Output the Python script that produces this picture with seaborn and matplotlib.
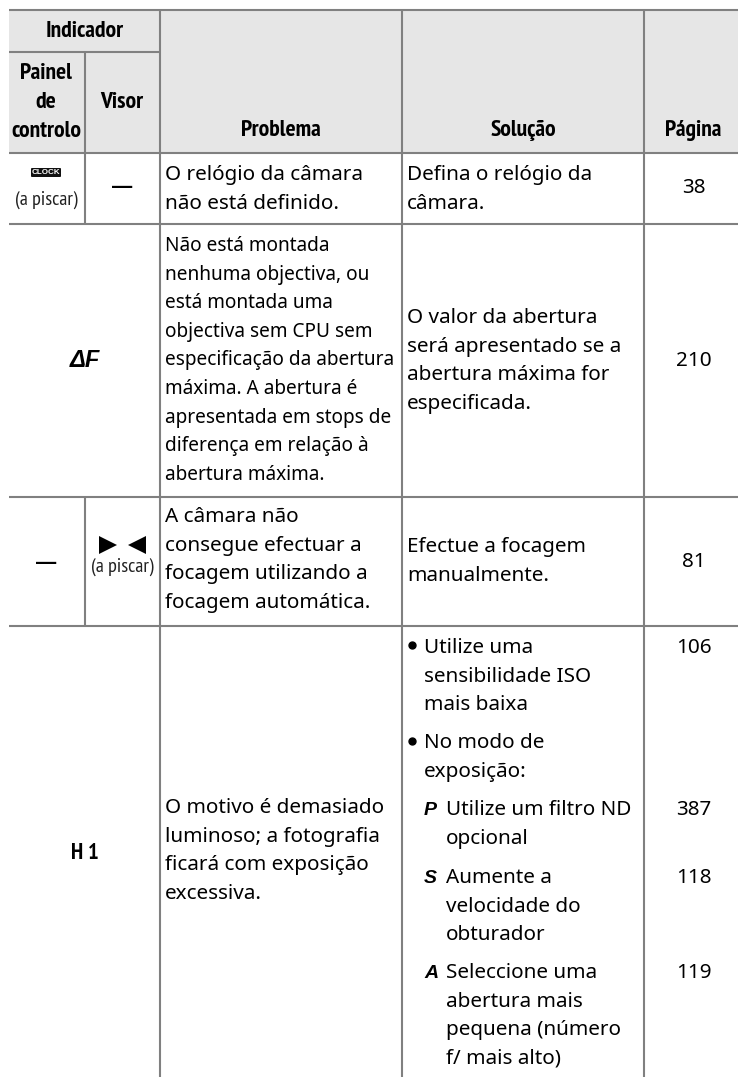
import matplotlib
matplotlib.use("Agg")
import matplotlib.pyplot as plt
import seaborn as sns
from matplotlib.patches import FancyBboxPatch, Polygon, Rectangle

# table text
header_top = "Indicador"
header_sub = ["Painel", "de", "controlo"]
header_visor = "Visor"
header_problem = "Problema"
header_solution = "Solução"
header_page = "Página"

blink = "(a piscar)"
dash = "—"
badge_text = "CLOCK"
aperture_symbol = "ΔF"
bright_symbol = "H 1"
mode_symbols = ["P", "S", "A"]

problem_1 = ["O relógio da câmara", "não está definido."]
problem_2 = ["Não está montada", "nenhuma objectiva, ou", "está montada uma",
             "objectiva sem CPU sem", "especificação da abertura",
             "máxima. A abertura é", "apresentada em stops de",
             "diferença em relação à", "abertura máxima."]
problem_3 = ["A câmara não", "consegue efectuar a", "focagem utilizando a",
             "focagem automática."]
problem_4 = ["O motivo é demasiado", "luminoso; a fotografia",
             "ficará com exposição", "excessiva."]

solution_1 = ["Defina o relógio da", "câmara."]
solution_2 = ["O valor da abertura", "será apresentado se a",
              "abertura máxima for", "especificada."]
solution_3 = ["Efectue a focagem", "manualmente."]
solution_4a = ["Utilize uma", "sensibilidade ISO", "mais baixa"]
solution_4b = ["No modo de", "exposição:"]
solution_p = ["Utilize um filtro ND", "opcional"]
solution_s = ["Aumente a", "velocidade do", "obturador"]
solution_a = ["Seleccione uma", "abertura mais", "pequena (número",
              "f/ mais alto)"]

pages = ["38", "210", "81", "106", "387", "118", "119"]

sns.set_theme(style="white")
plt.rcParams["font.family"] = ["Noto Sans", "DejaVu Sans"]

RULE = "#808080"
BAND = "#e6e6e6"
BODY = 14.9
TIGHT = 13.7
HEAD = 17
PITCH = 28.6
HEAD_FONT = ["PT Sans Narrow", "Roboto", "DejaVu Sans"]
SMALL_FONT = ["PT Sans Narrow", "Lato", "DejaVu Sans"]
SYMBOL_FONT = ["Liberation Sans", "DejaVu Sans"]
DASH_FONT = ["Lato", "DejaVu Sans"]

fig = plt.figure(figsize=(7.38, 10.77), dpi=100)
ax = fig.add_axes([0, 0, 1, 1])

ax.add_patch(Rectangle((9, 10), 729, 143, color=BAND, lw=0, zorder=0))

rules = [
    ([9, 738], [10, 10]), ([9, 160], [52, 52]), ([9, 738], [153, 153]),
    ([9, 738], [224, 224]), ([9, 738], [497, 497]), ([9, 738], [625.5, 625.5]),
    ([85, 85], [52, 224]), ([85, 85], [497, 625.5]),
    ([160, 160], [10, 1077]), ([402, 402], [10, 1077]), ([644, 644], [10, 1077]),
]
for xs, ys in rules:
    sns.lineplot(x=xs, y=ys, ax=ax, color=RULE, lw=1.5, estimator=None, sort=False,
                 solid_capstyle="butt", zorder=2)


def put_lines(x, y, lines, size=BODY):
    for i, line in enumerate(lines):
        ax.text(x, y + i * PITCH, line, va="baseline", fontsize=size, color="black")


def put_head(x, y, label):
    ax.text(x, y, label, ha="center", va="baseline", fontsize=HEAD, weight="bold",
            family=HEAD_FONT, color="black")


# header
put_head(85, 37, header_top)
for lab, y in zip(header_sub, [79, 108, 137]):
    put_head(46, y, lab)
put_head(122, 108, header_visor)
put_head(281, 136, header_problem)
put_head(523, 136, header_solution)
put_head(693.5, 136, header_page)

# indicator column
ax.add_patch(FancyBboxPatch((31.5, 168.5), 29, 8, boxstyle="round,pad=0.5,rounding_size=1",
                            fc="#111111", ec="none", zorder=3))
ax.text(46, 172.6, badge_text, ha="center", va="center", fontsize=5.8, weight="bold",
        family=SYMBOL_FONT, color="white", zorder=4)
ax.text(46, 205, blink, ha="center", va="baseline", fontsize=14.5, family=SMALL_FONT, color="#222222")
ax.text(122, 187.5, dash, ha="center", va="center", fontsize=22, family=DASH_FONT, color="black")
ax.text(85, 367, aperture_symbol, ha="center", va="baseline", fontsize=17, weight="bold",
        style="italic", family=SYMBOL_FONT, color="black")
ax.text(46, 563, dash, ha="center", va="center", fontsize=22, family=DASH_FONT, color="black")
ax.add_patch(Polygon([(99, 536), (117, 545), (99, 554)], fc="black", ec="none"))
ax.add_patch(Polygon([(146, 536), (128, 545), (146, 554)], fc="black", ec="none"))
ax.text(122, 572, blink, ha="center", va="baseline", fontsize=14.5, family=SMALL_FONT, color="#222222")
ax.text(84.5, 859, bright_symbol, ha="center", va="baseline", fontsize=16.5, weight="bold",
        family=HEAD_FONT, color="black")

# problem column
put_lines(165, 180, problem_1)
put_lines(165, 251, problem_2, size=TIGHT)
put_lines(165, 522, problem_3)
put_lines(165, 813, problem_4)

# solution column
put_lines(407, 180, solution_1)
put_lines(407, 323, solution_2)
put_lines(407, 552, solution_3)
put_lines(424, 653, solution_4a)
put_lines(424, 748, solution_4b)
ax.plot([412, 412], [645, 741], ls="none", marker="o", ms=5, color="black")
put_lines(446, 815, solution_p)
put_lines(446, 883, solution_s)
put_lines(446, 978, solution_a)
for sym, y in zip(mode_symbols, [815, 883, 978]):
    ax.text(424, y, sym, va="baseline", fontsize=14, weight="bold", style="italic",
            family=SYMBOL_FONT, color="black")

# page column
for lab, y in zip(pages, [193, 366, 567, 653, 815, 883, 978]):
    ax.text(693.5, y, lab, ha="center", va="baseline", fontsize=BODY, color="black")

ax.set_xlim(0, 738)
ax.set_ylim(1077, 0)
ax.axis("off")
fig.savefig("out.png", dpi=100)
